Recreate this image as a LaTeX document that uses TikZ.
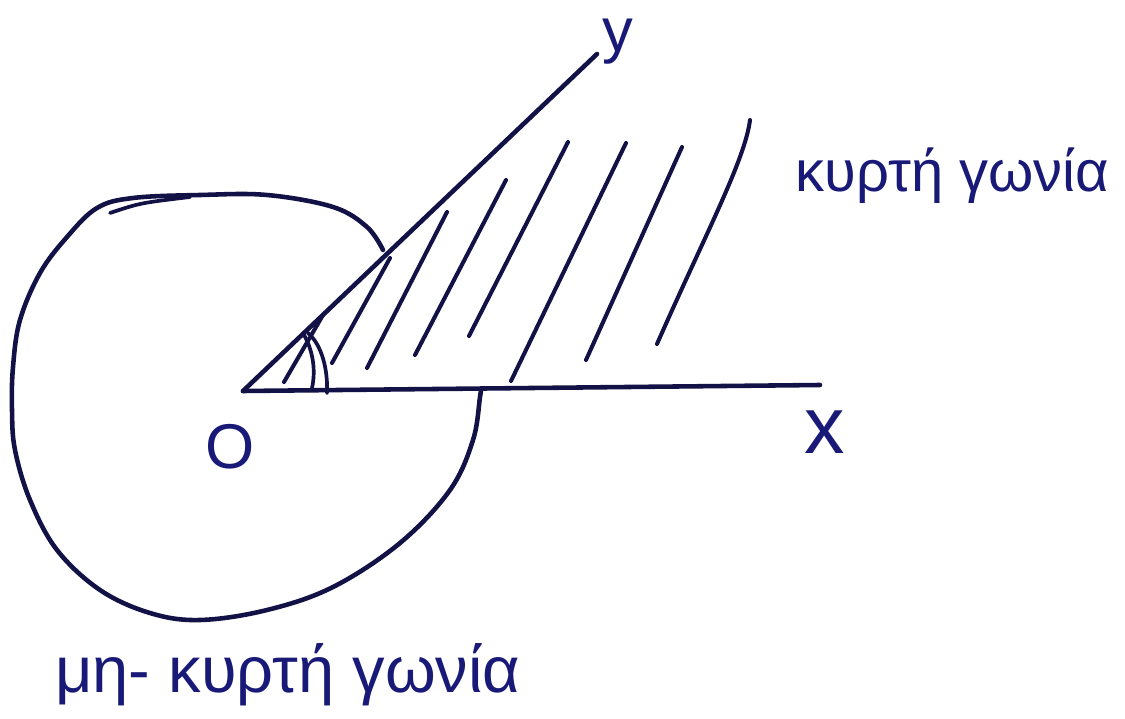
\documentclass[tikz,border=0pt]{standalone}
\usepackage{fontspec}
\setmainfont{Liberation Sans}
\definecolor{inkc}{RGB}{18,18,70}
\definecolor{textc}{RGB}{25,25,120}
\begin{document}
\begin{tikzpicture}[x=0.02cm,y=-0.02cm,
  ink/.style={draw=inkc, line width=2.6pt, line cap=round, line join=round},
  hatch/.style={draw=inkc, line width=2.3pt, line cap=round},
  lbl/.style={text=textc, inner sep=0pt}]
\useasboundingbox (0,0) rectangle (1125,719);
\fill[white] (0,0) rectangle (1125,719);
% rays
\coordinate (O) at (243,391);
\coordinate (X) at (820,385);
\coordinate (Y) at (597,54);
\draw[ink] (O) -- (X);
\draw[ink] (O) -- (Y);
% hatching of the convex angle
\draw[hatch] (284,382) -- (323,315);
\draw[hatch] (332,363) -- (390,258);
\draw[hatch] (367,368) -- (447,212);
\draw[hatch] (415,355) -- (506,180);
\draw[hatch] (469,336) -- (568,142);
\draw[hatch] (511,381) -- (626,143);
\draw[hatch] (586,360) -- (682,147);
\draw[hatch] (657,344) .. controls (705,235) and (745,160) .. (750,120);
% angle marks
\draw[ink, line width=2.1pt] (303,333) .. controls (313,350) and (316,370) .. (312,388);
\draw[ink, line width=2.1pt] (308,333) .. controls (322,345) and (328,370) .. (327,393);
% reflex-angle arc
\draw[ink] plot[smooth, tension=0.6] coordinates {(383,250) (367,227) (333,207) (267,195) (200,195) (133,198) (97,208) (67,237) (40,273) (20,320) (13,367) (12,410) (15,450) (30,500) (57,550) (100,590) (150,613) (200,620) (267,610) (333,587) (400,543) (450,490) (473,440) (480,397) (481,390)};
\draw[ink, line width=2.1pt] (110,213) .. controls (140,203) .. (190,197);
% labels
\node[lbl, font=\fontsize{35}{40}\selectfont] (ly) at (618,42) {y};
\node[lbl, font=\fontsize{46}{50}\selectfont] (lx) at (825,432) {x};
\node[lbl, font=\fontsize{36}{40}\selectfont] (lo) at (230,447) {O};
\node[lbl, font=\fontsize{33}{38}\selectfont, anchor=base west] (lconv) at (795,192) {κυρτή γωνία};
\node[lbl, font=\fontsize{37}{42}\selectfont, anchor=base west] (lref) at (55,692) {μη- κυρτή γωνία};
\end{tikzpicture}
\end{document}
